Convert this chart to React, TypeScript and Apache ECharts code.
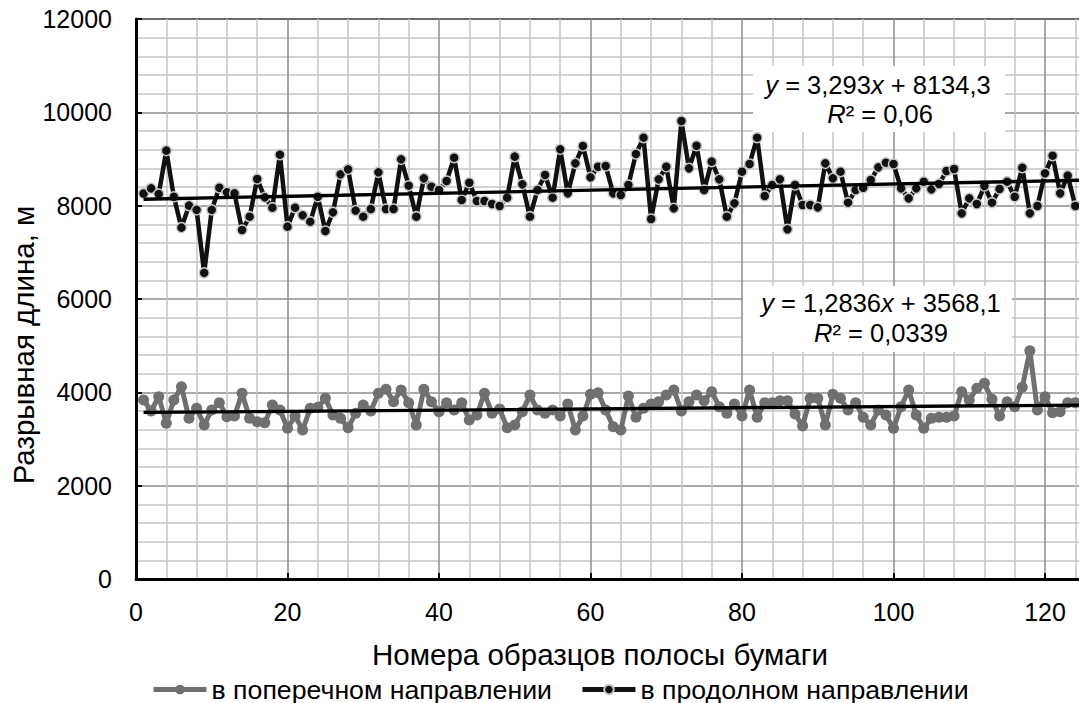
import React, { useEffect, useRef } from "react";
import * as echarts from "echarts";

const FONT = "'Liberation Sans', Arial, sans-serif";

const SAMPLE_NUMBERS: number[] = Array.from({ length: 124 }, (_, k) => k + 1);

const LONGITUDINAL: number[] = [
  8260, 8370, 8250, 9180, 8190, 7530, 8000, 7910, 6560, 7910,
  8385, 8285, 8264, 7478, 7764, 8571, 8178, 7957, 9093, 7550,
  7957, 7793, 7657, 8192, 7457, 7857, 8671, 8778, 7893, 7764,
  7928, 8714, 7928, 7928, 8992, 8428, 7764, 8585, 8407, 8335,
  8528, 9028, 8121, 8492, 8100, 8100, 8035, 7993, 8171, 9050,
  8457, 7764, 8335, 8657, 8171, 9207, 8264, 8907, 9278, 8607,
  8835, 8850, 8264, 8229, 8443, 9107, 9457, 7714, 8564, 8835,
  7943, 9814, 8800, 9285, 8335, 8943, 8564, 7764, 8050, 8728,
  8893, 9457, 8207, 8443, 8564, 7493, 8443, 8014, 8014, 7964,
  8907, 8585, 8728, 8064, 8335, 8385, 8550, 8821, 8921, 8893,
  8371, 8157, 8371, 8514, 8350, 8464, 8743, 8785, 7835, 8157,
  8035, 8421, 8064, 8357, 8514, 8192, 8814, 7835, 7993, 8693,
  9071, 8264, 8643, 7993,
];

const TRANSVERSE: number[] = [
  3836, 3600, 3907, 3336, 3836, 4121, 3443, 3657, 3300, 3621,
  3779, 3479, 3493, 3979, 3443, 3371, 3350, 3729, 3621, 3229,
  3493, 3193, 3657, 3679, 3871, 3514, 3443, 3243, 3550, 3730,
  3600, 3979, 4064, 3800, 4050, 3779, 3300, 4064, 3800, 3586,
  3779, 3621, 3779, 3407, 3514, 3979, 3550, 3643, 3243, 3300,
  3586, 3943, 3621, 3550, 3621, 3493, 3750, 3193, 3493, 3960,
  3993, 3621, 3264, 3193, 3921, 3464, 3657, 3750, 3800, 3943,
  4050, 3600, 3800, 3943, 3821, 4014, 3693, 3550, 3750, 3493,
  4050, 3464, 3779, 3779, 3821, 3821, 3536, 3279, 3871, 3871,
  3300, 3957, 3871, 3621, 3779, 3464, 3300, 3621, 3514, 3229,
  3693, 4050, 3514, 3229, 3443, 3464, 3464, 3493, 4014, 3836,
  4086, 4193, 3850, 3493, 3800, 3693, 4107, 4893, 3621, 3907,
  3564, 3586, 3779, 3779,
];

const SERIES_NAMES = ["в поперечном направлении", "в продолном направлении"];

const TREND_LONG = { slope: 3.293, intercept: 8134.3 };
const TREND_TRANS = { slope: 1.2836, intercept: 3568.1 };
const TREND_RANGE = [1, 135];

const X_TITLE = "Номера образцов полосы бумаги";
const Y_TITLE = "Разрывная длина, м";

const LABEL_LONG = ["{i|y} = 3,293{i|x} + 8134,3", "{i|R}² = 0,06"];
const LABEL_TRANS = ["{i|y} = 1,2836{i|x} + 3568,1", "{i|R}² = 0,0339"];

const LAST_SHOWN_X = 120;

function trend(t: { slope: number; intercept: number }) {
  return TREND_RANGE.map((x) => [x, t.slope * x + t.intercept]);
}

export default function App() {
  const ref = useRef<HTMLDivElement>(null);

  useEffect(() => {
    if (!ref.current) return;
    const chart = echarts.init(ref.current, null, { renderer: "svg" });
    const rich = { i: { fontStyle: "italic", fontSize: 25.5, fontFamily: FONT, fill: "#000" } };
    const textEl = (x: number, y: number, text: string) => ({
      type: "text",
      x,
      y,
      style: {
        text,
        rich,
        fontSize: 25.5,
        fontFamily: FONT,
        fill: "#000",
        align: "center",
        verticalAlign: "middle",
      },
      z: 101,
    });
    chart.setOption({
      animation: false,
      backgroundColor: "#fff",
      textStyle: { fontFamily: FONT },
      grid: {
        left: 136,
        top: 19,
        right: 33.5,
        bottom: 124,
        show: true,
        borderColor: "#000",
        borderWidth: 2,
        outerBoundsMode: "none",
        containLabel: false,
      },
      legend: {
        data: SERIES_NAMES,
        left: 151,
        top: 676,
        padding: 0,
        itemWidth: 53,
        itemHeight: 12,
        itemGap: 28,
        lineStyle: { width: 5 },
        textStyle: { fontSize: 26.7, color: "#000", fontFamily: FONT },
      },
      xAxis: {
        type: "value",
        min: 0,
        max: 140,
        interval: 20,
        axisLine: { show: true, lineStyle: { color: "#000", width: 3 } },
        axisTick: { show: true, inside: true, length: 6, lineStyle: { color: "#000", width: 2 } },
        axisLabel: {
          fontSize: 25,
          color: "#000",
          margin: 20,
          fontFamily: FONT,
          formatter: (v: number) => (v > LAST_SHOWN_X ? "" : String(v)),
        },
        splitLine: { show: true, lineStyle: { color: "#8c8c8c", width: 1.5 } },
        minorTick: { show: false, splitNumber: 5 },
        minorSplitLine: { show: true, lineStyle: { color: "#c4c4c4", width: 1.5 } },
      },
      yAxis: {
        type: "value",
        min: 0,
        max: 12000,
        interval: 2000,
        axisLine: { show: true, lineStyle: { color: "#000", width: 3 } },
        axisTick: { show: true, inside: true, length: 6, lineStyle: { color: "#000", width: 2 } },
        axisLabel: {
          fontSize: 25,
          color: "#000",
          margin: 24,
          fontFamily: FONT,
          formatter: (v: number) => String(v),
        },
        splitLine: { show: true, lineStyle: { color: "#8c8c8c", width: 1.5 } },
        minorTick: { show: false, splitNumber: 5 },
        minorSplitLine: { show: true, lineStyle: { color: "#c4c4c4", width: 1.5 } },
      },
      series: [
        {
          name: SERIES_NAMES[0],
          type: "line",
          data: SAMPLE_NUMBERS.map((n, k) => [n, TRANSVERSE[k]]),
          symbol: "circle",
          symbolSize: 11,
          lineStyle: { color: "#707070", width: 5 },
          itemStyle: { color: "#707070" },
          z: 3,
        },
        {
          name: SERIES_NAMES[1],
          type: "line",
          data: SAMPLE_NUMBERS.map((n, k) => [n, LONGITUDINAL[k]]),
          symbol: "circle",
          symbolSize: 10,
          lineStyle: { color: "#111", width: 4.5 },
          itemStyle: { color: "#111", borderColor: "#c8c8c8", borderWidth: 1.5 },
          z: 3,
        },
        {
          name: "trend-long",
          type: "line",
          data: trend(TREND_LONG),
          symbol: "none",
          lineStyle: { color: "#000", width: 3.3 },
          z: 4,
          silent: true,
        },
        {
          name: "trend-trans",
          type: "line",
          data: trend(TREND_TRANS),
          symbol: "none",
          lineStyle: { color: "#000", width: 3.3 },
          z: 4,
          silent: true,
        },
      ],
      graphic: [
        { type: "rect", shape: { x: 753, y: 66, width: 252, height: 66 }, style: { fill: "#fff" }, z: 100 },
        textEl(878, 85, LABEL_LONG[0]),
        textEl(880, 114, LABEL_LONG[1]),
        { type: "rect", shape: { x: 743, y: 286, width: 269, height: 66 }, style: { fill: "#fff" }, z: 100 },
        textEl(881, 303, LABEL_TRANS[0]),
        textEl(881, 333, LABEL_TRANS[1]),
        {
          type: "text",
          x: 600,
          y: 654,
          style: {
            text: X_TITLE,
            fontSize: 29.5,
            fontFamily: FONT,
            fill: "#000",
            align: "center",
            verticalAlign: "middle",
          },
          z: 101,
        },
        {
          type: "text",
          x: 23,
          y: 345,
          rotation: Math.PI / 2,
          style: {
            text: Y_TITLE,
            fontSize: 29.5,
            fontFamily: FONT,
            fill: "#000",
            align: "center",
            verticalAlign: "middle",
          },
          z: 101,
        },
      ],
    });
    return () => chart.dispose();
  }, []);

  return (
    <div
      style={{
        position: "fixed",
        left: 0,
        top: 0,
        width: 1079,
        height: 703,
        overflow: "hidden",
        background: "#fff",
      }}
    >
      <div ref={ref} style={{ width: 1230, height: 703 }} />
    </div>
  );
}
